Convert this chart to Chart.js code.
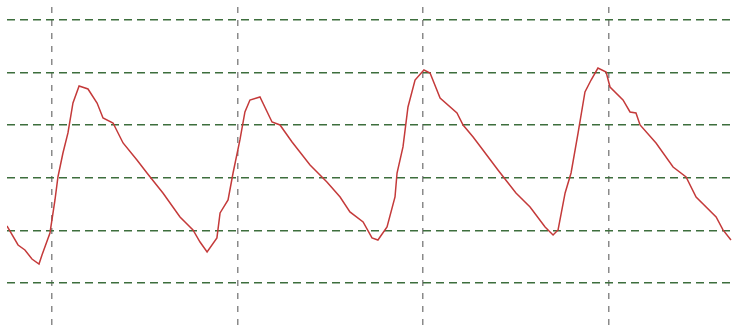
<!DOCTYPE html>
<html>
<head>
<meta charset="utf-8">
<script src="https://cdn.jsdelivr.net/npm/chart.js@4"></script>
<style>
  html, body { margin: 0; padding: 0; background: #fff; }
  #wrap { width: 733px; height: 331px; }
</style>
</head>
<body>
<div id="wrap"><canvas id="scope"></canvas></div>
<script>
// trace, in divisions
const times = [-0.243, -0.183, -0.146, -0.108, -0.070, -0.054, -0.011, 0.016, 0.032, 0.059, 0.086, 0.113,
  0.146, 0.194, 0.243, 0.275, 0.329, 0.383, 0.458, 0.512, 0.598, 0.690, 0.760, 0.798, 0.836, 0.889,
  0.906, 0.949, 0.976, 1.013, 1.040, 1.067, 1.121, 1.186, 1.229, 1.294, 1.391, 1.482, 1.553, 1.606,
  1.677, 1.725, 1.757, 1.806, 1.849, 1.860, 1.892, 1.919, 1.957, 2.005, 2.038, 2.092, 2.183, 2.216,
  2.270, 2.323, 2.404, 2.501, 2.577, 2.658, 2.701, 2.728, 2.766, 2.798, 2.836, 2.873, 2.906, 2.943,
  2.987, 3.008, 3.078, 3.116, 3.148, 3.170, 3.256, 3.348, 3.418, 3.472, 3.580, 3.617, 3.660];

const volts = [1.084, 0.722, 0.627, 0.456, 0.361, 0.532, 0.951, 1.578, 2.015, 2.471, 2.852, 3.422,
  3.745, 3.688, 3.422, 3.137, 3.042, 2.662, 2.338, 2.091, 1.711, 1.255, 1.008, 0.779, 0.589, 0.856,
  1.331, 1.578, 2.091, 2.719, 3.251, 3.479, 3.536, 3.061, 3.004, 2.681, 2.243, 1.920, 1.635, 1.350,
  1.160, 0.856, 0.817, 1.065, 1.635, 2.091, 2.586, 3.346, 3.859, 4.049, 3.992, 3.517, 3.232, 3.004,
  2.776, 2.529, 2.148, 1.711, 1.445, 1.065, 0.913, 1.008, 1.711, 2.091, 2.852, 3.631, 3.859, 4.087,
  4.011, 3.726, 3.479, 3.251, 3.232, 3.004, 2.662, 2.205, 2.015, 1.635, 1.255, 1.008, 0.817];

const timeDivs = [0, 1, 2, 3];
const voltDivs = [0, 1, 2, 3, 4, 5];

const points = times.map((t, i) => ({x: t, y: volts[i]}));

new Chart(document.getElementById('scope'), {
  type: 'line',
  data: {
    datasets: [{
      data: points,
      borderColor: '#c43a3a',
      borderWidth: 1.5,
      pointRadius: 0,
      tension: 0,
      fill: false
    }]
  },
  options: {
    responsive: true,
    maintainAspectRatio: false,
    animation: false,
    layout: { padding: { left: 7, top: 7, right: 0, bottom: 0 } },
    plugins: { legend: { display: false }, tooltip: { enabled: false } },
    scales: {
      x: {
        type: 'linear',
        min: -0.2426,
        max: 3.671,
        afterBuildTicks: axis => { axis.ticks = timeDivs.map(v => ({value: v})); },
        ticks: { display: false },
        // in v4 the grid dash lives on border.dash
        border: { display: false, dash: [6, 7] },
        grid: { color: '#8a8a8a', lineWidth: 1.5, drawTicks: false }
      },
      y: {
        type: 'linear',
        min: -0.913,
        max: 5.247,
        afterBuildTicks: axis => { axis.ticks = voltDivs.map(v => ({value: v})); },
        ticks: { display: false },
        border: { display: false, dash: [8, 5] },
        grid: { color: '#3d6e3d', lineWidth: 1.5, drawTicks: false }
      }
    }
  }
});
</script>
</body>
</html>
